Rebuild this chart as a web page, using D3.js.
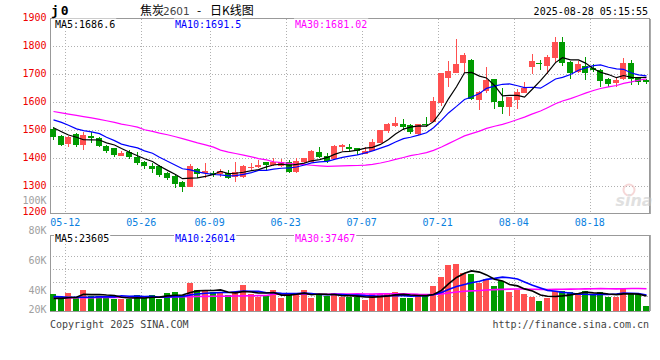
<!DOCTYPE html>
<html><head><meta charset="utf-8">
<script src="https://cdn.jsdelivr.net/npm/d3@7"></script>
<style>body{margin:0;background:#fff}svg{display:block}</style>
</head><body><svg id="c" width="660" height="360"></svg>
<script>
// ---------- DATA ----------
const dates = ["05-08","05-09","05-12","05-13","05-14","05-15","05-16","05-19","05-20","05-21","05-22","05-23","05-26","05-27","05-28","05-29","05-30",
"06-03","06-04","06-05","06-06","06-09","06-10","06-11","06-12","06-13","06-16","06-17","06-18","06-19","06-20","06-23","06-24","06-25","06-26","06-27","06-30",
"07-01","07-02","07-03","07-04","07-07","07-08","07-09","07-10","07-11","07-14","07-15","07-16","07-17","07-18","07-21","07-22","07-23","07-24","07-25","07-28","07-29","07-30","07-31",
"08-01","08-04","08-05","08-06","08-07","08-08","08-11","08-12","08-13","08-14","08-15","08-18","08-19","08-20","08-21","08-22","08-25","08-26","08-27"];
const open  = [1504,1479,1450,1486,1446,1480,1470,1443,1434,1408,1421,1405,1387,1373,1372,1347,1336,1315,1298,1360,1347,1348,1343,1348,1333,1333,1363,1367,1387,1375,1371,1385,1351,1387,1387,1421,1407,1395,1440,1438,1437,1414,1426,1455,1498,1514,1520,1518,1486,1521,1530,1598,1684,1702,1738,1750,1607,1639,1681,1604,1583,1607,1633,1726,1738,1728,1756,1815,1742,1708,1730,1721,1714,1681,1669,1681,1741,1684,1679];
const high  = [1512,1481,1479,1488,1494,1494,1474,1446,1436,1425,1428,1422,1389,1382,1374,1350,1338,1318,1377,1364,1383,1355,1362,1357,1387,1375,1381,1393,1387,1399,1395,1393,1401,1401,1428,1440,1419,1446,1450,1450,1437,1440,1468,1500,1526,1548,1538,1521,1521,1545,1619,1705,1745,1826,1776,1752,1640,1724,1681,1649,1619,1645,1671,1773,1750,1768,1833,1833,1745,1745,1760,1736,1717,1685,1690,1756,1750,1690,1681];
const low   = [1464,1443,1441,1441,1429,1452,1440,1417,1404,1407,1398,1376,1362,1347,1333,1321,1294,1279,1298,1328,1330,1332,1332,1324,1316,1330,1357,1363,1357,1371,1369,1347,1345,1381,1385,1399,1381,1393,1426,1426,1411,1414,1426,1452,1490,1512,1500,1486,1483,1512,1527,1586,1655,1702,1702,1608,1571,1631,1575,1557,1550,1574,1631,1700,1714,1700,1743,1729,1681,1705,1679,1708,1652,1652,1652,1679,1661,1661,1664];
const close = [1476,1446,1476,1446,1482,1473,1444,1425,1409,1419,1405,1382,1371,1360,1338,1328,1307,1298,1370,1343,1354,1341,1355,1327,1351,1371,1369,1375,1375,1385,1385,1351,1389,1399,1426,1405,1391,1444,1446,1433,1426,1426,1458,1500,1521,1525,1512,1494,1521,1517,1605,1702,1712,1736,1768,1610,1637,1679,1601,1583,1617,1637,1649,1746,1734,1759,1815,1738,1705,1735,1702,1714,1676,1663,1679,1741,1681,1670,1670];
const volume = [27800,23300,30000,23300,34500,25000,25000,25000,19500,19500,19500,26200,23300,26200,20500,29500,31200,26200,46200,34500,32800,31200,31200,26200,30000,43300,27800,23300,25000,34500,21700,27800,30000,34500,21700,27800,24500,29500,23300,23300,23300,17800,27800,27800,29500,31200,22200,22200,24500,27800,41200,56200,76200,77800,62800,61200,46200,52800,41200,49500,31200,34500,27800,23300,16200,21200,32800,32800,31200,27800,32800,26200,31200,23300,23300,38300,27800,27800,7800];
// moving-average values read at the left edge, before enough days exist to compute them
const ma5Head  = [1508,1494,1482,1474];
const ma10Head = [1536,1527,1517,1504,1498,1493,1487,1474,1462];
const ma30Head = [1566,1561,1557,1552,1548,1543,1538,1533,1527,1521,1516,1510,1501,1495,1489,1483,1476,1469,1461,1454,1447,1439,1428,1421,1416,1410,1404,1398,1393];
const vma5Head  = [21000,21000,22000,23000];
const vma10Head = [24000,23500,23000,23000,23000,23000,23500,23500,23500];
const vma30Head = [21500,21500,21800,22000,22000,22200,22400,22500,22600,22800,23000,23000,23200,23300,23400,23500,23600,23800,24000,24100,24300,24500,24600,24800,25000,25200,25400,25600,25800];
const priceGrid   = [1300,1400,1500,1600,1700,1800];
const priceLabels = [1200,1300,1400,1500,1600,1700,1800,1900];
const volLabels   = [20000,40000,60000,80000,100000];
const dateTicks   = ["05-12","05-26","06-09","06-23","07-07","07-21","08-04","08-18"];
const mainLegend  = ["MA5:1686.6","MA10:1691.5","MA30:1681.02"];
const volLegend   = ["MA5:23605","MA10:26014","MA30:37467"];
const titleCode = "j0", titleName = "焦炭", titleNum = "2601", titleTail = "日K线图";
const stamp = "2025-08-28 05:15:55";

// ---------- LAYOUT ----------
const L = 50, R = 649, PT = 18.5, PB = 213.5, VT = 235, VB = 311;
const UP = "#ff5050", DN = "#009b00", C5 = "#000000", C10 = "#0000ff", C30 = "#ff00ff";
const MONO = "'DejaVu Sans Mono', monospace";
const svg = d3.select("#c");

const x = d3.scaleBand().domain(dates).range([L, R]).paddingInner(0.2).paddingOuter(0);
const bw = x.bandwidth();
const cx = d => Math.round(x(d) + bw / 2) + 0.5;
const y = d3.scaleLinear().domain([1200, 1900]).range([214, 18]);
const yv = d3.scaleLinear().domain([0, 125000]).range([VB, 236]);
const yvLab = d3.scaleLinear().domain([20000, 100000]).range([320, 200]);
const yvGrid = d3.scaleLinear().domain([0, 3]).range([255.7, 295.7]);

function ma(arr, n, head) {
  return arr.map((v, i) => i < n - 1 ? head[i] : d3.mean(arr.slice(i - n + 1, i + 1)));
}

// ---------- GRIDS ----------
const grid = svg.append("g").attr("stroke", "#b0b0b0").attr("stroke-dasharray", "1,2").attr("shape-rendering", "crispEdges");
priceGrid.forEach(p => grid.append("line").attr("x1", L).attr("x2", R).attr("y1", Math.round(y(p)) + 0.5).attr("y2", Math.round(y(p)) + 0.5));
[0, 1, 2, 3].forEach(k => grid.append("line").attr("x1", L).attr("x2", R).attr("y1", Math.round(yvGrid(k)) + 0.5).attr("y2", Math.round(yvGrid(k)) + 0.5));
dateTicks.forEach(d => {
  const gx = Math.round(x(d)) + 0.5;
  grid.append("line").attr("x1", gx).attr("x2", gx).attr("y1", PT).attr("y2", PB);
  grid.append("line").attr("x1", gx).attr("x2", gx).attr("y1", VT).attr("y2", VB);
});

// ---------- FRAMES ----------
const fr = svg.append("g").attr("fill", "none").attr("stroke", "#999").attr("shape-rendering", "crispEdges");
fr.append("rect").attr("x", L + 0.5).attr("y", PT).attr("width", R - L).attr("height", PB - PT);
fr.append("rect").attr("x", L + 0.5).attr("y", VT + 0.5).attr("width", R - L).attr("height", VB - VT);
fr.append("line").attr("x1", R + 1).attr("x2", R + 1).attr("y1", PT).attr("y2", PB).attr("stroke", "#aaa");
fr.append("line").attr("x1", R + 1).attr("x2", R + 1).attr("y1", VT).attr("y2", VB).attr("stroke", "#aaa");

// ---------- WATERMARK ----------
const wm = svg.append("g").attr("opacity", 0.55);
wm.append("circle").attr("cx", 629).attr("cy", 190).attr("r", 5.5).attr("fill", "none").attr("stroke", "#f0b8b8").attr("stroke-width", 2);
wm.append("text").attr("x", 634).attr("y", 206).attr("text-anchor", "middle").attr("font-family", "'DejaVu Sans', sans-serif")
  .attr("font-size", 16).attr("font-style", "italic").attr("font-weight", "bold").attr("fill", "#c8c8c8").text("sina");

// ---------- CANDLES ----------
const cg = svg.append("g").attr("shape-rendering", "crispEdges");
dates.forEach((d, i) => {
  const col = close[i] >= open[i] ? UP : DN;
  const xx = cx(d);
  cg.append("line").attr("x1", xx).attr("x2", xx).attr("y1", y(high[i])).attr("y2", y(low[i])).attr("stroke", col);
  const top = y(Math.max(open[i], close[i])), bot = y(Math.min(open[i], close[i]));
  cg.append("rect").attr("x", Math.round(x(d))).attr("y", top).attr("width", Math.round(bw)).attr("height", Math.max(1, bot - top)).attr("fill", col);
});

// ---------- VOLUME BARS ----------
const vg = svg.append("g").attr("shape-rendering", "crispEdges");
dates.forEach((d, i) => {
  const col = close[i] >= open[i] ? UP : DN;
  vg.append("rect").attr("x", Math.round(x(d))).attr("y", yv(volume[i])).attr("width", Math.round(bw))
    .attr("height", VB - yv(volume[i])).attr("fill", col);
});

// ---------- MA LINES ----------
function drawLine(vals, ys, color, w) {
  svg.append("path").datum(vals).attr("fill", "none").attr("stroke", color).attr("stroke-width", w)
    .attr("d", d3.line().x((v, i) => cx(dates[i])).y(v => ys(v)));
}
drawLine(ma(close, 30, ma30Head), y, C30, 1.2);
drawLine(ma(close, 10, ma10Head), y, C10, 1.2);
drawLine(ma(close, 5, ma5Head), y, C5, 1.2);
drawLine(ma(volume, 30, vma30Head), yv, C30, 1.6);
drawLine(ma(volume, 10, vma10Head), yv, C10, 1.6);
drawLine(ma(volume, 5, vma5Head), yv, C5, 1.6);

// ---------- AXIS LABELS ----------
const ax = svg.append("g").attr("font-family", MONO).attr("font-size", 10);
priceLabels.forEach(p => ax.append("text").attr("x", 46.5).attr("y", Math.min(y(p), 212) - 1).attr("dy", "0.35em")
  .attr("text-anchor", "end").attr("fill", "#ee0000").text(p));
volLabels.forEach(v => ax.append("text").attr("x", 46.5).attr("y", Math.min(yvLab(v), 309.5)).attr("dy", "0.35em")
  .attr("text-anchor", "end").attr("fill", "#a0a0a0").text(v / 1000 + "K"));
dateTicks.forEach(d => ax.append("text").attr("x", x(d)).attr("y", 222).attr("dy", "0.35em")
  .attr("text-anchor", "middle").attr("fill", "#0a7fe0").text(d));

// ---------- LEGENDS (white boxes hide grid) ----------
function legend(texts, yy) {
  const xs = [55, 175, 295], cols = [C5, C10, C30];
  texts.forEach((t, k) => {
    const tx = svg.append("text").attr("x", xs[k]).attr("y", yy).attr("dy", "0.35em").attr("font-family", MONO)
      .attr("font-size", 10).attr("fill", cols[k]).text(t);
    const b = tx.node().getBBox();
    svg.insert("rect", () => tx.node()).attr("x", b.x - 1).attr("y", b.y).attr("width", b.width + 2).attr("height", b.height).attr("fill", "#fff");
  });
}
legend(mainLegend, 24);
legend(volLegend, 238.5);

// ---------- TITLE ----------
svg.append("text").attr("x", 51).attr("y", 15).attr("font-family", MONO).attr("font-weight", "bold").attr("font-size", 13)
  .attr("letter-spacing", 2).attr("fill", "#000").text(titleCode);
const tt = svg.append("text").attr("y", 15).attr("font-family", "'Noto Sans CJK SC', sans-serif").attr("font-size", 12).attr("fill", "#000");
tt.append("tspan").attr("x", 140).text(titleName);
tt.append("tspan").attr("x", 163).attr("font-family", "'DejaVu Sans', sans-serif").attr("font-size", 10.5).attr("fill", "#444").text(titleNum);
tt.append("tspan").attr("x", 197).text("-");
tt.append("tspan").attr("x", 210).text(titleTail);
svg.append("text").attr("x", 648).attr("y", 15).attr("text-anchor", "end").attr("font-family", MONO).attr("font-size", 10).attr("fill", "#000").text(stamp);

// ---------- FOOTER ----------
svg.append("text").attr("x", 50).attr("y", 324).attr("dy", "0.35em").attr("font-family", MONO).attr("font-size", 10).attr("fill", "#444").text("Copyright 2025 SINA.COM");
svg.append("text").attr("x", 649).attr("y", 324).attr("dy", "0.35em").attr("text-anchor", "end").attr("font-family", MONO).attr("font-size", 10).attr("fill", "#444").text("http://finance.sina.com.cn");
</script></body></html>
